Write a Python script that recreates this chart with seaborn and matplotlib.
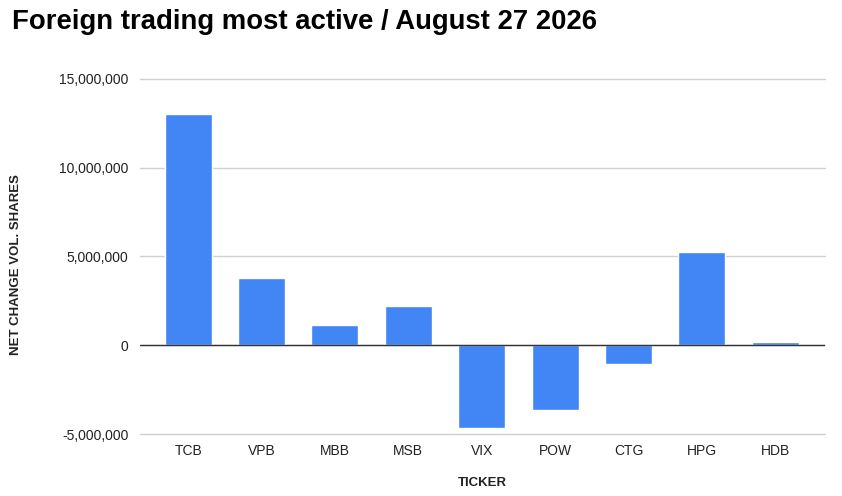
import matplotlib
matplotlib.use("Agg")
import matplotlib.pyplot as plt
import seaborn as sns
import pandas as pd
from matplotlib.ticker import FuncFormatter

# Data
tickers = ['TCB', 'VPB', 'MBB', 'MSB', 'VIX', 'POW', 'CTG', 'HPG', 'HDB']
net_change = [13030000, 3760000, 1120000, 2210000, -4690000,
              -3650000, -1070000, 5260000, 180000]

df = pd.DataFrame({'ticker': tickers, 'net_change': net_change})

sns.set_style("white")
plt.rcParams['font.family'] = ['Liberation Sans', 'DejaVu Sans']

fig = plt.figure(figsize=(8.42, 4.96), dpi=100)
ax = fig.add_axes([0.166, 0.125, 0.814, 0.716])

sns.barplot(data=df, x='ticker', y='net_change', color='#4285F4',
            saturation=1, width=0.64, ax=ax, zorder=3)

ax.set_xlim(-0.66, 8.68)
ax.set_ylim(-5000000, 15000000)
ax.set_yticks([-5000000, 0, 5000000, 10000000, 15000000])
ax.yaxis.set_major_formatter(FuncFormatter(lambda v, p: f"{int(v):,}"))
ax.grid(axis='y', color='#d0d0d0', linewidth=1, zorder=0)
for gl in ax.get_ygridlines():
    gl.set_clip_on(False)
ax.axhline(0, color='#333333', linewidth=1.0, zorder=4)

for s in ax.spines.values():
    s.set_visible(False)
ax.tick_params(axis='both', length=0, labelsize=10, labelcolor='#222222')
ax.tick_params(axis='y', pad=8)
ax.tick_params(axis='x', pad=7)

ax.set_xlabel('TICKER', fontsize=9.5, fontweight='bold', color='#222222', labelpad=14)
ax.set_ylabel('NET CHANGE VOL. SHARES', fontsize=9.5, fontweight='bold', color='#222222')
ax.yaxis.set_label_coords(-0.172, 0.476)

fig.text(0.014, 0.955, 'Foreign trading most active / August 27 2026',
         fontsize=19.8, fontweight='bold', color='#000000', va='center', ha='left')

fig.savefig('out.png', dpi=100)
